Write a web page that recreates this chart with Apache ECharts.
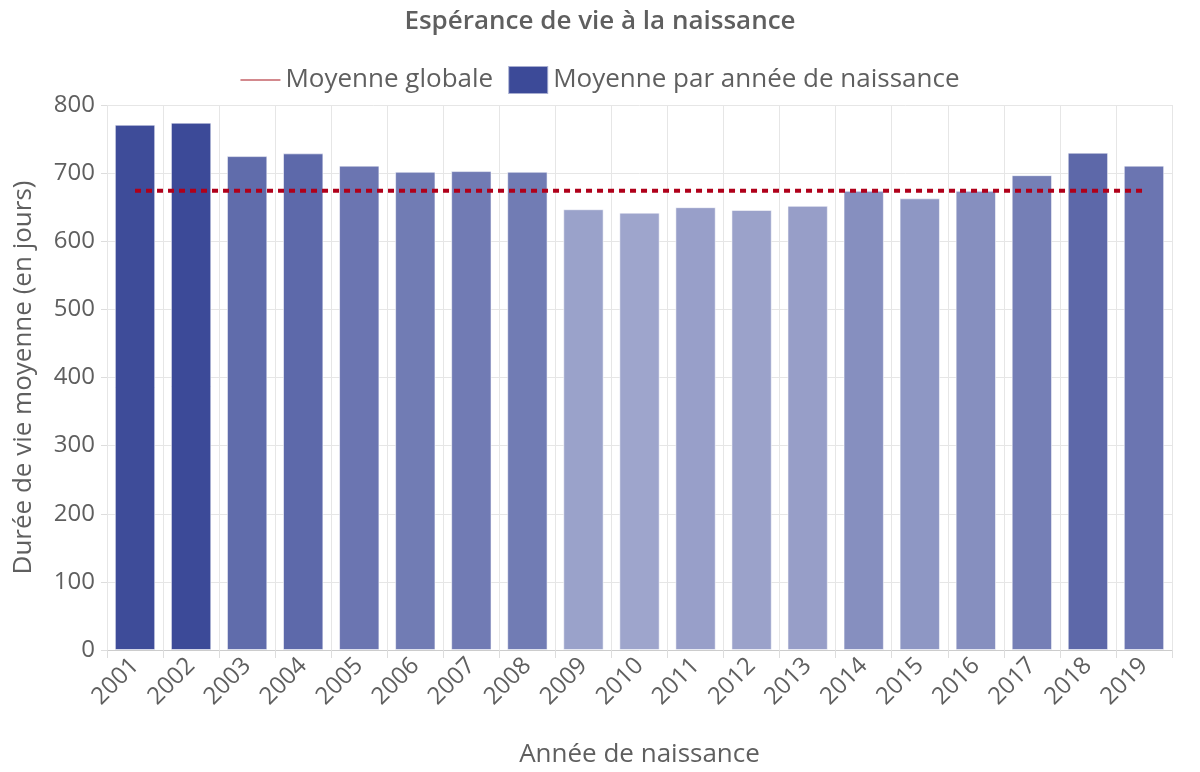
<!DOCTYPE html>
<html>
<head>
<meta charset="utf-8">
<script src="https://cdn.jsdelivr.net/npm/echarts@6/dist/echarts.min.js"></script>
<style>
  html, body { margin: 0; padding: 0; background: #fff; }
  #main { width: 1200px; height: 772px; }
</style>
</head>
<body>
<div id="main"></div>
<script>
  // années de naissance
  var annees = ['2001', '2002', '2003', '2004', '2005', '2006', '2007', '2008', '2009', '2010',
                '2011', '2012', '2013', '2014', '2015', '2016', '2017', '2018', '2019'];
  // durée de vie moyenne (en jours) par année
  var moyennes = [771, 774, 725, 729, 711, 702, 703, 702, 647, 642,
                  650, 646, 652, 674, 663, 674, 697, 730, 711];
  // moyenne globale
  var moyenneGlobale = [674, 674, 674, 674, 674, 674, 674, 674, 674, 674,
                        674, 674, 674, 674, 674, 674, 674, 674, 674];
  var ticksY = [0, 100, 200, 300, 400, 500, 600, 700, 800];

  var police = '"Open Sans", Lato, sans-serif';
  var gris = '#5f5f5f';

  var chart = echarts.init(document.getElementById('main'));
  chart.setOption({
    textStyle: {fontFamily: police, color: gris},
    title: {
      text: 'Espérance de vie à la naissance',
      left: 'center',
      top: 4,
      textStyle: {fontFamily: police, color: gris, fontSize: 26, fontWeight: 600}
    },
    legend: {
      top: 60,
      left: 'center',
      itemGap: 14,
      itemWidth: 40,
      itemHeight: 28,
      textStyle: {fontFamily: police, color: gris, fontSize: 26},
      data: [
        {name: 'Moyenne globale', icon: 'path://M0,0 L40,0 L40,1 L0,1 Z', itemStyle: {color: '#a8141c'}},
        {name: 'Moyenne par année de naissance', icon: 'rect', itemStyle: {color: '#3c4a98', opacity: 1}}
      ]
    },
    visualMap: {
      show: false,
      type: 'continuous',
      seriesIndex: 1,
      min: 642,
      max: 774,
      inRange: {color: ['#9ea5cc', '#3c4a98']}
    },
    grid: {left: 107, right: 28, top: 105, bottom: 122, outerBoundsMode: 'none'},
    xAxis: {
      type: 'category',
      data: annees,
      name: 'Année de naissance',
      nameLocation: 'middle',
      nameGap: 92,
      nameTextStyle: {fontSize: 26, color: gris},
      axisLine: {lineStyle: {color: '#cccccc'}},
      axisTick: {show: true, length: 8, lineStyle: {color: '#dddddd'}},
      axisLabel: {rotate: 45, fontSize: 24, color: gris, margin: 12},
      splitLine: {show: true, lineStyle: {color: '#e6e6e6'}}
    },
    yAxis: {
      type: 'value',
      min: ticksY[0],
      max: ticksY[ticksY.length - 1],
      interval: 100,
      name: 'Durée de vie moyenne (en jours)',
      nameLocation: 'middle',
      nameGap: 70,
      nameTextStyle: {fontSize: 26, color: gris},
      axisLine: {show: false},
      axisTick: {show: true, length: 6, lineStyle: {color: '#dddddd'}},
      axisLabel: {fontSize: 24, color: gris, margin: 12},
      splitLine: {lineStyle: {color: '#e6e6e6'}}
    },
    series: [
      {
        name: 'Moyenne globale',
        type: 'line',
        data: moyenneGlobale,
        symbol: 'none',
        z: 5,
        lineStyle: {color: '#b0001a', width: 4, type: [6, 5]},
        itemStyle: {color: '#a8141c'}
      },
      {
        name: 'Moyenne par année de naissance',
        type: 'bar',
        data: moyennes,
        barCategoryGap: '28%',
        itemStyle: {borderColor: 'rgba(255,255,255,0.55)', borderWidth: 1}
      }
    ]
  });
</script>
</body>
</html>
